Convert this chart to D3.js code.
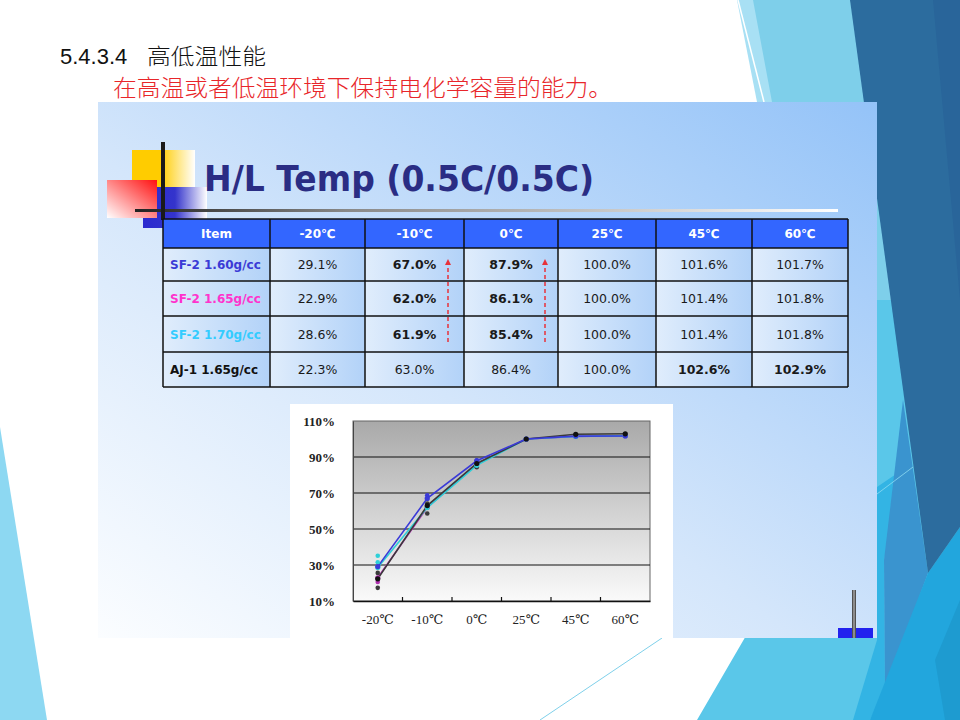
<!DOCTYPE html>
<html>
<head>
<meta charset="utf-8">
<script src="https://cdn.jsdelivr.net/npm/d3@7"></script>
<style>
  html, body { margin: 0; padding: 0; background: #fff; }
  svg { display: block; }
</style>
</head>
<body>
<svg id="slide" width="960" height="720"></svg>
<script>
// values
const temps = ["-20℃", "-10℃", "0℃", "25℃", "45℃", "60℃"];
const items = ["SF-2 1.60g/cc", "SF-2 1.65g/cc", "SF-2 1.70g/cc", "AJ-1 1.65g/cc"];
const sf160 = [29.1, 67.0, 87.9, 100.0, 101.6, 101.7];
const sf165 = [22.9, 62.0, 86.1, 100.0, 101.4, 101.8];
const sf170 = [28.6, 61.9, 85.4, 100.0, 101.4, 101.8];
const aj165 = [22.3, 63.0, 86.4, 100.0, 102.6, 102.9];
const yTicks = [10, 30, 50, 70, 90, 110];
// single cell readings scattered around the curves
const sampleTemp = ["-20℃", "-20℃", "-20℃", "-20℃", "-20℃", "-10℃", "-10℃", "-10℃", "0℃", "0℃"];
const sampleVal = [35.1, 31.5, 25.6, 20.6, 17.3, 68.7, 64.2, 58.6, 88.2, 84.3];
const sampleSet = [2, 2, 3, 1, 3, 0, 3, 3, 0, 3];

const series = [sf160, sf165, sf170, aj165];
const labelColors = ["#3b3bd6", "#ff33cc", "#33ccff", "#111111"];
const lineColors = ["#3a3ad8", "#b030b0", "#2fd0d8", "#3a3a3a"];
const boldCells = ["0-1", "0-2", "1-1", "1-2", "2-1", "2-2", "3-4", "3-5"];

const svg = d3.select("#slide");
const defs = svg.append("defs");

function grad(id, x1, y1, x2, y2, stops) {
  const g = defs.append("linearGradient").attr("id", id)
    .attr("x1", x1).attr("y1", y1).attr("x2", x2).attr("y2", y2);
  stops.forEach(s => g.append("stop").attr("offset", s[0]).attr("stop-color", s[1]));
}
grad("panelG", 0, 1, 1, 0, [[0, "#fbfdff"], [0.45, "#d4e6fb"], [1, "#94c3f8"]]);
grad("cellG", 0, 0, 1, 0, [[0, "#e0edfc"], [1, "#b2d2f8"]]);
grad("plotG", 0, 0, 0, 1, [[0, "#a9a9a9"], [1, "#fafafa"]]);
grad("yelG", 0, 0, 1, 0, [[0, "#ffcc00"], [0.45, "#ffcc00"], [1, "#ffffff"]]);
grad("redG", 1, 0, 0, 1, [[0, "#ff1010"], [1, "#ffffff"]]);
grad("bluG", 0, 0, 1, 0, [[0, "#2a2ad0"], [0.5, "#3434cc"], [1, "#ffffff"]]);
grad("ruleG", 0, 0, 1, 0, [[0, "#222"], [0.3, "#888"], [1, "#ffffff"]]);
grad("barG", 0, 0, 1, 0, [[0, "#333"], [0.5, "#aaa"], [1, "#333"]]);

// slide background shapes
const poly = (pts, fill) => svg.append("polygon")
  .attr("points", pts.map(p => p.join(",")).join(" ")).attr("fill", fill);
poly([[0, 427], [47, 720], [0, 720]], "#8dd8f2");
poly([[737, 0], [960, 0], [960, 102], [757, 102]], "#a8e0f4");
poly([[753, 0], [960, 0], [960, 560], [877, 560], [877, 102], [772, 102]], "#7ecfea");
poly([[877, 300], [960, 300], [960, 720], [697, 720], [790, 560], [877, 560]], "#5ac7e9");
poly([[877, 487], [905, 468], [884, 560], [885, 690], [870, 720], [853, 720], [877, 640]], "#33b4e4");
poly([[903, 400], [928, 573], [885, 690], [884, 560]], "#3a94cf");
poly([[928, 573], [960, 527], [960, 720], [870, 720]], "#22a6dd");
poly([[935, 660], [960, 600], [960, 720], [945, 720]], "#1e9bd0");
poly([[850, 0], [960, 0], [960, 527], [928, 573]], "#2c6c9e");
poly([[933, 0], [960, 0], [960, 300]], "#29659a");
svg.append("line").attr("x1", 738).attr("y1", 0).attr("x2", 764).attr("y2", 102)
  .attr("stroke", "#fff").attr("stroke-width", 1.5);
svg.append("line").attr("x1", 877).attr("y1", 494).attr("x2", 913).attr("y2", 467)
  .attr("stroke", "#8fdcf2").attr("stroke-width", 0.8);
svg.append("line").attr("x1", 540).attr("y1", 720).attr("x2", 662).attr("y2", 638)
  .attr("stroke", "#7fd0ea").attr("stroke-width", 1);

// heading texts
svg.append("text").attr("x", 60).attr("y", 64)
  .attr("font-family", "'Liberation Sans', Arial, sans-serif")
  .attr("font-size", 22).attr("fill", "#111")
  .text("5.4.3.4");
svg.append("text").attr("x", 147).attr("y", 64)
  .attr("font-family", "'Noto Sans CJK SC', sans-serif").attr("font-weight", 300)
  .attr("font-size", 22).attr("fill", "#111")
  .attr("textLength", 119).attr("lengthAdjust", "spacingAndGlyphs")
  .text("高低温性能");
svg.append("text").attr("x", 113).attr("y", 96)
  .attr("font-family", "'Noto Sans CJK SC', sans-serif").attr("font-weight", 300)
  .attr("font-size", 23).attr("fill", "#e8262a")
  .attr("textLength", 499).attr("lengthAdjust", "spacingAndGlyphs")
  .text("在高温或者低温环境下保持电化学容量的能力。");

// picture panel
svg.append("rect").attr("x", 98).attr("y", 102).attr("width", 779).attr("height", 536)
  .attr("fill", "url(#panelG)");

// title ornament
svg.append("rect").attr("x", 132).attr("y", 150).attr("width", 63).attr("height", 37).attr("fill", "url(#yelG)");
svg.append("rect").attr("x", 143).attr("y", 187).attr("width", 64).attr("height", 41).attr("fill", "url(#bluG)");
svg.append("rect").attr("x", 107).attr("y", 180).attr("width", 50).attr("height", 38).attr("fill", "url(#redG)");
svg.append("rect").attr("x", 135).attr("y", 209).attr("width", 703).attr("height", 3).attr("fill", "url(#ruleG)");
svg.append("rect").attr("x", 161).attr("y", 142).attr("width", 4).attr("height", 78).attr("fill", "#1a1a1a");

svg.append("text").attr("x", 204).attr("y", 191)
  .attr("font-family", "'DejaVu Sans', Verdana, sans-serif").attr("font-weight", "bold")
  .attr("font-size", 36).attr("fill", "#2a2d84")
  .attr("textLength", 390).attr("lengthAdjust", "spacingAndGlyphs")
  .text("H/L Temp (0.5C/0.5C)");

// table
const colX = [163, 270, 365, 464, 558, 656, 752, 848];
const rowY = [219, 248, 281, 316, 352, 387];
const table = svg.append("g").attr("font-family", "'DejaVu Sans', Verdana, sans-serif");

const header = ["Item"].concat(temps);
header.forEach((h, c) => {
  table.append("rect").attr("x", colX[c]).attr("y", rowY[0])
    .attr("width", colX[c + 1] - colX[c]).attr("height", rowY[1] - rowY[0])
    .attr("fill", "#3366ff");
  table.append("text").attr("x", (colX[c] + colX[c + 1]) / 2).attr("y", (rowY[0] + rowY[1]) / 2 + 4.5)
    .attr("text-anchor", "middle").attr("font-size", 12).attr("font-weight", "bold")
    .attr("fill", "#fff").text(h);
});

series.forEach((vals, r) => {
  const y0 = rowY[r + 1], y1 = rowY[r + 2], cy = (y0 + y1) / 2 + 4.5;
  const cells = [items[r]].concat(vals.map(v => v.toFixed(1) + "%"));
  cells.forEach((t, c) => {
    table.append("rect").attr("x", colX[c]).attr("y", y0)
      .attr("width", colX[c + 1] - colX[c]).attr("height", y1 - y0)
      .attr("fill", "url(#cellG)");
    const isLabel = c === 0;
    table.append("text")
      .attr("x", isLabel ? colX[0] + 7 : (colX[c] + colX[c + 1]) / 2)
      .attr("y", cy)
      .attr("text-anchor", isLabel ? "start" : "middle")
      .attr("font-size", isLabel ? 12 : 12.5)
      .attr("font-weight", isLabel || boldCells.includes(r + "-" + (c - 1)) ? "bold" : "normal")
      .attr("fill", isLabel ? labelColors[r] : "#1a1a1a")
      .text(t);
  });
});

// grid lines of the table
colX.forEach(x => table.append("line").attr("x1", x).attr("x2", x)
  .attr("y1", rowY[0]).attr("y2", rowY[rowY.length - 1]).attr("stroke", "#111").attr("stroke-width", 1.5));
rowY.forEach(y => table.append("line").attr("x1", colX[0]).attr("x2", colX[colX.length - 1])
  .attr("y1", y).attr("y2", y).attr("stroke", "#111").attr("stroke-width", 1.5));

// red dashed arrows in the -10 and 0 columns
defs.append("marker").attr("id", "arr").attr("viewBox", "0 0 10 10").attr("refX", 5).attr("refY", 5)
  .attr("markerWidth", 4).attr("markerHeight", 4).attr("orient", "auto")
  .append("path").attr("d", "M0,0 L10,5 L0,10 z").attr("fill", "#e8323a");
[448, 545].forEach(x => svg.append("line").attr("x1", x).attr("x2", x).attr("y1", 342).attr("y2", 262)
  .attr("stroke", "#e8323a").attr("stroke-width", 1.5).attr("stroke-dasharray", "4,3")
  .attr("marker-end", "url(#arr)"));

// line chart
svg.append("rect").attr("x", 290).attr("y", 404).attr("width", 383).attr("height", 234).attr("fill", "#fff");

const plotL = 353, plotR = 650, plotT = 421, plotB = 601;
const x = d3.scaleBand().domain(temps).range([plotL, plotR]);
const y = d3.scaleLinear().domain([10, 110]).range([plotB, plotT]);
const cx = t => x(t) + x.bandwidth() / 2;

const chart = svg.append("g");
chart.append("rect").attr("x", plotL).attr("y", plotT).attr("width", plotR - plotL).attr("height", plotB - plotT)
  .attr("fill", "url(#plotG)").attr("stroke", "#666").attr("stroke-width", 1);

chart.append("g").selectAll("line").data(yTicks.slice(1, -1)).join("line")
  .attr("x1", plotL).attr("x2", plotR).attr("y1", d => y(d)).attr("y2", d => y(d))
  .attr("stroke", "#111").attr("stroke-width", 1.2);

const yAxis = chart.append("g").attr("transform", `translate(${plotL},0)`)
  .call(d3.axisLeft(y).tickValues(yTicks).tickSize(0).tickPadding(18).tickFormat(d => d + "%"));
yAxis.select(".domain").attr("stroke", "#444");
yAxis.selectAll("text").attr("font-family", "'Liberation Serif', 'DejaVu Serif', serif")
  .attr("font-size", 13).attr("font-weight", "bold").attr("fill", "#222");

const xAxis = chart.append("g").attr("transform", `translate(0,${plotB})`)
  .call(d3.axisBottom(x).tickSize(0).tickPadding(14));
xAxis.select(".domain").attr("stroke", "#111").attr("stroke-width", 1.5);
xAxis.selectAll("text").attr("font-family", "'Liberation Serif', 'DejaVu Serif', serif")
  .attr("font-size", 13).attr("fill", "#222");
// small inward ticks between the categories
chart.append("g").selectAll("line").data(temps.slice(1)).join("line")
  .attr("x1", d => x(d)).attr("x2", d => x(d)).attr("y1", plotB).attr("y2", plotB - 4)
  .attr("stroke", "#111").attr("stroke-width", 1.2);

const line = d3.line().x((d, i) => cx(temps[i])).y(d => y(d));
[1, 2, 3, 0].forEach(k => {
  chart.append("path").attr("d", line(series[k])).attr("fill", "none")
    .attr("stroke", lineColors[k]).attr("stroke-width", 1.6);
});
chart.append("g").selectAll("circle").data(sampleVal).join("circle")
  .attr("cx", (d, i) => cx(sampleTemp[i])).attr("cy", d => y(d)).attr("r", 2.3)
  .attr("fill", (d, i) => lineColors[sampleSet[i]]);
[1, 2, 0, 3].forEach(k => {
  chart.append("g").selectAll("circle").data(series[k]).join("circle")
    .attr("cx", (d, i) => cx(temps[i])).attr("cy", d => y(d)).attr("r", 2.6)
    .attr("fill", k === 3 ? "#111" : lineColors[k]);
});

// small ornament at the lower right of the panel
svg.append("rect").attr("x", 838).attr("y", 628).attr("width", 35).attr("height", 10).attr("fill", "#2222ee");
svg.append("rect").attr("x", 852).attr("y", 590).attr("width", 4).attr("height", 48).attr("fill", "url(#barG)");
</script>
</body>
</html>
